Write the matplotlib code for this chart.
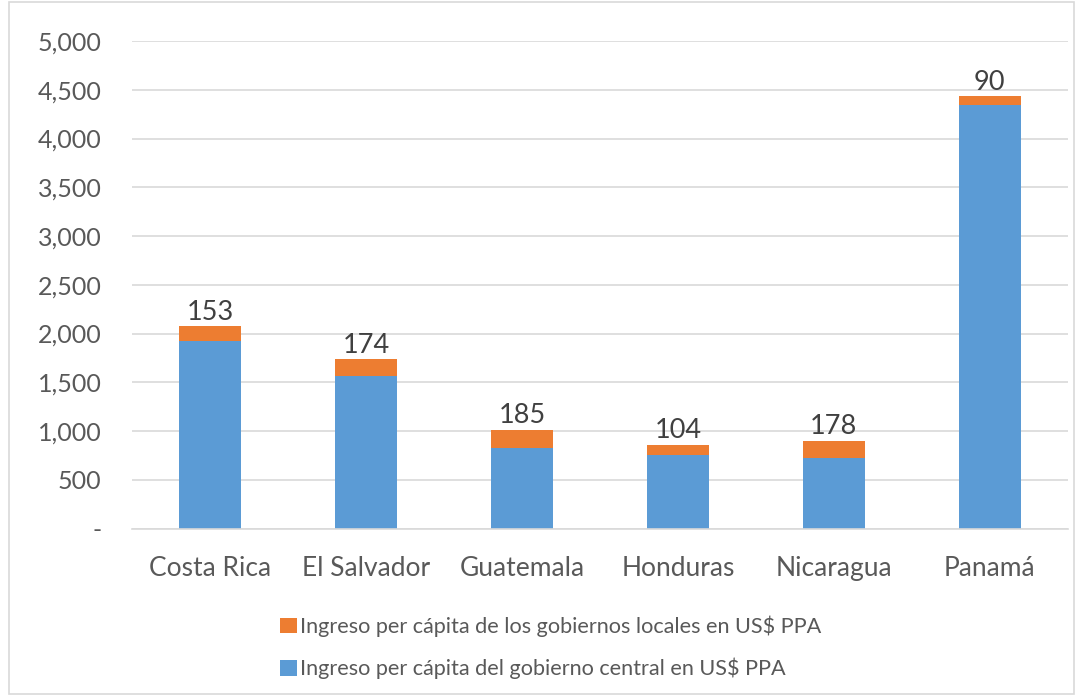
import numpy as np
import matplotlib
matplotlib.use('Agg')
import matplotlib.pyplot as plt
from matplotlib.ticker import FuncFormatter
from matplotlib.patches import Rectangle

paises = ['Costa Rica', 'El Salvador', 'Guatemala', 'Honduras', 'Nicaragua', 'Panamá']
central = [1920, 1565, 830, 755, 725, 4345]
locales = [153, 174, 185, 104, 178, 90]

etiqueta_locales = 'Ingreso per cápita de los gobiernos locales en US$ PPA'
etiqueta_central = 'Ingreso per cápita del gobierno central en US$ PPA'

plt.rcParams['font.family'] = ['Lato', 'DejaVu Sans']

fig = plt.figure(figsize=(10.83, 6.96), dpi=100)
fig.patches.append(Rectangle((0.008, 0.003), 0.984, 0.994, transform=fig.transFigure,
                             fill=False, edgecolor='#D9D9D9', linewidth=1.2))

ax = fig.add_axes([0.122, 0.2406, 0.864, 0.7004])

x = np.arange(len(paises))
ancho = 0.40
ax.bar(x, central, ancho, color='#5B9BD5', label=etiqueta_central, zorder=2)
ax.bar(x, locales, ancho, bottom=central, color='#ED7D31', label=etiqueta_locales, zorder=2)

for xi, c, l in zip(x, central, locales):
    ax.text(xi, c + l + 15, f'{l}', ha='center', va='bottom', fontsize=19.5, color='#404040')

ax.set_xlim(-0.5, len(paises) - 0.5)
ax.set_ylim(0, 5000)
ax.set_yticks(np.arange(0, 5001, 500))
ax.yaxis.set_major_formatter(FuncFormatter(lambda v, p: '-' if v == 0 else f'{v:,.0f}'))
ax.set_xticks(x)
ax.set_xticklabels(paises)
ax.tick_params(axis='both', length=0, colors='#595959')
ax.tick_params(axis='y', labelsize=18, pad=22)
ax.tick_params(axis='x', labelsize=19, pad=20)
ax.grid(axis='y', color='#D9D9D9', linewidth=1.2, zorder=0)
for s in ['top', 'right', 'left']:
    ax.spines[s].set_visible(False)
ax.spines['bottom'].set_color('#D9D9D9')
ax.spines['bottom'].set_linewidth(1.2)

h, lab = ax.get_legend_handles_labels()
fig.legend(h[::-1], lab[::-1], loc='upper left', bbox_to_anchor=(0.251, 0.128),
           ncol=1, frameon=False, fontsize=15.6, labelcolor='#595959',
           handlelength=0.75, handleheight=0.75, handletextpad=0.15, labelspacing=0.95,
           borderaxespad=0)

fig.savefig('out.png', dpi=100)
